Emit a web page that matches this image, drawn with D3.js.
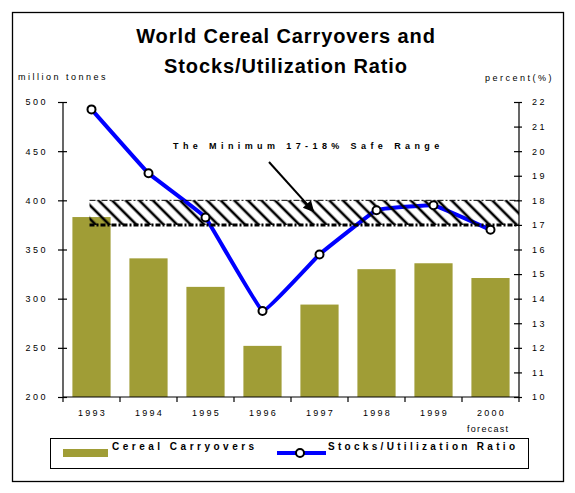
<!DOCTYPE html>
<html>
<head>
<meta charset="utf-8">
<script src="https://cdn.jsdelivr.net/npm/d3@7"></script>
<style>
  body { margin: 0; background: #fff; }
  text { font-family: Arial, "Liberation Sans", sans-serif; fill: #000; }
</style>
</head>
<body>
<svg id="chart" width="575" height="493"></svg>
<script>
// valeurs
const years = ["1993", "1994", "1995", "1996", "1997", "1998", "1999", "2000"];
const carryovers = [383, 341, 312, 252, 294, 330, 336, 321];      // million tonnes
const stocksRatio = [21.7, 19.1, 17.3, 13.5, 15.8, 17.6, 17.8, 16.8]; // percent
const leftTicks = [200, 250, 300, 350, 400, 450, 500];
const rightTicks = [10, 11, 12, 13, 14, 15, 16, 17, 18, 19, 20, 21, 22];
const safeRange = [17, 18];

const svg = d3.select("#chart");
const pLeft = 63, pRight = 519, pTop = 102, pBottom = 397;
const olive = "#a09d36", blue = "#0000ff";

let x = d3.scaleBand().domain(years).range([pLeft, pRight])
        .paddingInner(0.33).paddingOuter(0.165),
    y0 = d3.scaleLinear().domain([200, 500]).range([pBottom, pTop]),
    y1 = d3.scaleLinear().domain([10, 22]).range([pBottom, pTop]),
    xm = d => x(d) + x.bandwidth() / 2;

// cadre
svg.append("rect").attr("x", 12.5).attr("y", 12.5)
    .attr("width", 551).attr("height", 469)
    .attr("fill", "none").attr("stroke", "#000").attr("stroke-width", 1.3);

// titre
svg.append("text").attr("x", 286).attr("y", 43).attr("text-anchor", "middle")
    .style("font-size", "20px").style("font-weight", "bold").style("letter-spacing", "0.9px")
    .text("World Cereal Carryovers and");
svg.append("text").attr("x", 286).attr("y", 73).attr("text-anchor", "middle")
    .style("font-size", "20px").style("font-weight", "bold").style("letter-spacing", "0.9px")
    .text("Stocks/Utilization Ratio");

svg.append("text").attr("x", 18).attr("y", 80)
    .style("font-size", "9px").style("letter-spacing", "2.5px").text("million tonnes");
svg.append("text").attr("x", 554).attr("y", 81).attr("text-anchor", "end")
    .style("font-size", "9px").style("letter-spacing", "2.5px").text("percent(%)");

// barres
svg.append("g").selectAll("rect").data(years).enter()
    .append("rect")
    .attr("x", d => x(d))
    .attr("y", (d, i) => y0(carryovers[i]))
    .attr("width", x.bandwidth())
    .attr("height", (d, i) => pBottom - y0(carryovers[i]))
    .attr("fill", olive);

// courbe du ratio
svg.append("path")
    .datum(years)
    .attr("d", d3.line().curve(d3.curveCardinal.tension(0.8))
        .x(d => xm(d)).y((d, i) => y1(stocksRatio[i])))
    .attr("fill", "none").attr("stroke", blue).attr("stroke-width", 4);

// zone 17-18% hachuree
let defs = svg.append("defs");
defs.append("pattern").attr("id", "hatch")
    .attr("patternUnits", "userSpaceOnUse")
    .attr("width", 9.6).attr("height", 9.6)
    .attr("patternTransform", "rotate(-45)")
    .append("line")
    .attr("x1", 4.8).attr("x2", 4.8).attr("y1", -1).attr("y2", 11)
    .attr("stroke", "#000").attr("stroke-width", 2.6);
defs.append("marker").attr("id", "arrow")
    .attr("viewBox", "0 0 10 10").attr("refX", 9).attr("refY", 5)
    .attr("markerUnits", "userSpaceOnUse")
    .attr("markerWidth", 15).attr("markerHeight", 11).attr("orient", "auto")
    .append("path").attr("d", "M0,0L10,5L0,10Z").attr("fill", "#000");

let bandX0 = xm(years[0]) - 2;
svg.append("rect")
    .attr("x", bandX0).attr("y", y1(safeRange[1]))
    .attr("width", pRight - bandX0).attr("height", y1(safeRange[0]) - y1(safeRange[1]))
    .attr("fill", "url(#hatch)");
svg.append("line")
    .attr("x1", bandX0).attr("x2", pRight)
    .attr("y1", y1(safeRange[1])).attr("y2", y1(safeRange[1]))
    .attr("stroke", "#000").attr("stroke-width", 1).attr("stroke-dasharray", "6,2,2,2");
svg.append("line")
    .attr("x1", bandX0).attr("x2", pRight)
    .attr("y1", y1(safeRange[0])).attr("y2", y1(safeRange[0]))
    .attr("stroke", "#000").attr("stroke-width", 3).attr("stroke-dasharray", "5,2,2,2");

// annotation
svg.append("text").attr("x", 173).attr("y", 149)
    .style("font-size", "9px").style("font-weight", "bold").style("letter-spacing", "4.4px")
    .text("The Minimum 17-18% Safe Range");
svg.append("line")
    .attr("x1", 269).attr("y1", 162)
    .attr("x2", xm("1997") - 6).attr("y2", y1(17.55))
    .attr("stroke", "#000").attr("stroke-width", 2)
    .attr("marker-end", "url(#arrow)");

// axes
let axL = svg.append("g").attr("transform", `translate(${pLeft},0)`)
    .call(d3.axisLeft(y0).tickValues(leftTicks).tickSize(5).tickPadding(0).tickFormat(d3.format("d")));
let axR = svg.append("g").attr("transform", `translate(${pRight},0)`)
    .call(d3.axisRight(y1).tickValues(rightTicks).tickSize(3).tickPadding(0).tickFormat(d3.format("d")));
[axL, axR].forEach(a => {
    a.select(".domain").attr("d", `M0,${pTop}V${pBottom}`).attr("stroke-width", 1.2);
    a.selectAll(".tick line").attr("stroke-width", 1.2);
    a.selectAll("text").style("font-size", "9px").style("letter-spacing", "2.5px")
        .style("font-family", "Arial, 'Liberation Sans', sans-serif");
});
axL.selectAll(".tick line").attr("x1", 4).attr("x2", -5);
axL.selectAll(".tick text").attr("x", -15);
axR.selectAll(".tick line").attr("x1", -5).attr("x2", 3);
axR.selectAll(".tick text").attr("x", 13);

let axB = svg.append("g");
axB.append("line").attr("x1", pLeft).attr("x2", pRight)
    .attr("y1", pBottom).attr("y2", pBottom).attr("stroke", "#000").attr("stroke-width", 1.2);
let bounds = years.map(d => x(d) - x.step() * x.paddingInner() / 2).concat([pRight]);
axB.selectAll(".xt").data(bounds).enter().append("line")
    .attr("x1", d => d).attr("x2", d => d)
    .attr("y1", pBottom).attr("y2", pBottom + 5)
    .attr("stroke", "#000").attr("stroke-width", 1.2);
axB.selectAll(".xl").data(years).enter().append("text")
    .attr("x", d => xm(d) + 1).attr("y", 416).attr("text-anchor", "middle")
    .style("font-size", "9px").style("letter-spacing", "2.2px")
    .text(d => d);
svg.append("text").attr("x", 467).attr("y", 432)
    .style("font-size", "9px").style("letter-spacing", "1.3px").text("forecast");

// marqueurs
svg.append("g").selectAll("circle").data(years).enter()
    .append("circle")
    .attr("cx", d => xm(d)).attr("cy", (d, i) => y1(stocksRatio[i]))
    .attr("r", 4).attr("fill", "#fff").attr("stroke", "#000").attr("stroke-width", 2);

// legende
let lg = svg.append("g");
lg.append("rect").attr("x", 50.5).attr("y", 438.5).attr("width", 478).attr("height", 30)
    .attr("fill", "none").attr("stroke", "#000").attr("stroke-width", 1);
lg.append("rect").attr("x", 63).attr("y", 449).attr("width", 45).attr("height", 8).attr("fill", olive);
lg.append("text").attr("x", 112).attr("y", 450)
    .style("font-size", "10px").style("font-weight", "bold").style("letter-spacing", "3.5px")
    .text("Cereal Carryovers");
lg.append("line").attr("x1", 277).attr("x2", 326).attr("y1", 453).attr("y2", 453)
    .attr("stroke", blue).attr("stroke-width", 4);
lg.append("circle").attr("cx", 300).attr("cy", 453).attr("r", 4)
    .attr("fill", "#fff").attr("stroke", "#000").attr("stroke-width", 2);
lg.append("text").attr("x", 328).attr("y", 450)
    .style("font-size", "10px").style("font-weight", "bold").style("letter-spacing", "3.3px")
    .text("Stocks/Utilization Ratio");
</script>
</body>
</html>
